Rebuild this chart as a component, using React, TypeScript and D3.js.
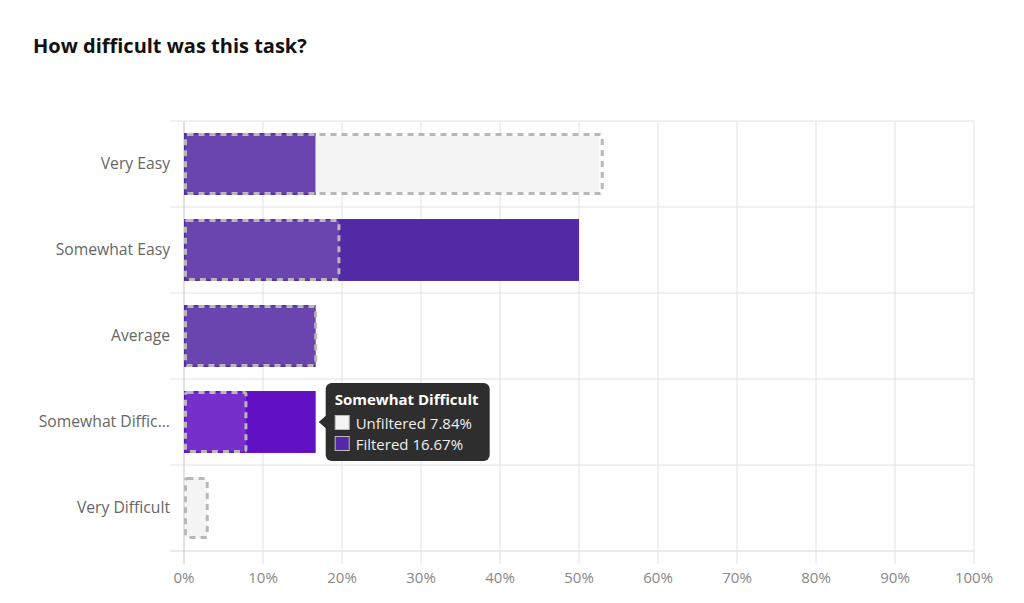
import React from "react";
import * as d3 from "d3";

const categories = ["Very Easy", "Somewhat Easy", "Average", "Somewhat Difficult", "Very Difficult"];
const categoryLabels = ["Very Easy", "Somewhat Easy", "Average", "Somewhat Diffic...", "Very Difficult"];
const unfilteredValues = [52.94, 19.61, 16.67, 7.84, 2.94];
const filteredValues = [16.67, 50, 16.67, 16.67, 0];
const xTicks = [0, 10, 20, 30, 40, 50, 60, 70, 80, 90, 100];
const hoveredCategory = "Somewhat Difficult";

const W = 1024;
const H = 603;
const FONT = "'Open Sans', Lato, sans-serif";

export default function App() {
  const left = 184;
  const right = 974;
  const top = 121;
  const bottom = 551;

  const x = d3.scaleLinear().domain([0, 100]).range([left, right]);
  const y = d3
    .scaleBand<string>()
    .domain(categories)
    .range([top, bottom])
    .paddingInner(0.28)
    .paddingOuter(0.14);
  const step = y.step();
  const bw = y.bandwidth();

  const hi = categories.indexOf(hoveredCategory);
  const hy = (y(hoveredCategory) as number) + bw / 2;
  const tipX = x(filteredValues[hi]) + 3;
  const boxX = tipX + 7;
  const boxY = hy - 39;
  const boxW = 164;
  const boxH = 78;

  return (
    <div style={{ position: "absolute", left: 0, top: 0 }}>
      <svg width={W} height={H} style={{ display: "block", background: "#fff" }} fontFamily={FONT}>
        <text x={33} y={53} fontSize={20} fontWeight={700} fill="#111">
          How difficult was this task?
        </text>

        {/* horizontal band separators */}
        {categories.map((c, i) => (
          <line
            key={"h" + c}
            x1={170}
            x2={right}
            y1={top + i * step}
            y2={top + i * step}
            stroke="#e2e2e2"
            strokeWidth={1}
          />
        ))}
        <line x1={170} x2={right} y1={bottom} y2={bottom} stroke="#d8d8d8" strokeWidth={1} />

        {/* vertical grid and ticks */}
        {xTicks.map((t) => (
          <g key={"v" + t}>
            <line
              x1={x(t)}
              x2={x(t)}
              y1={top}
              y2={bottom + 13}
              stroke={t === 0 ? "#c4c4c4" : "#e2e2e2"}
              strokeWidth={1}
            />
            <text x={x(t)} y={583} textAnchor="middle" fontSize={15} fill="#888">
              {t}%
            </text>
          </g>
        ))}

        {/* category labels */}
        {categories.map((c, i) => (
          <text
            key={"l" + c}
            x={170}
            y={(y(c) as number) + bw / 2}
            dy="0.35em"
            textAnchor="end"
            fontSize={15.7}
            fill="#666"
          >
            {categoryLabels[i]}
          </text>
        ))}

        {/* filtered bars */}
        {categories.map((c, i) =>
          filteredValues[i] > 0 ? (
            <rect
              key={"f" + c}
              x={x(0)}
              y={y(c) as number}
              width={x(filteredValues[i]) - x(0)}
              height={bw}
              fill={c === hoveredCategory ? "#6210c4" : "#5429a5"}
            />
          ) : null
        )}

        {/* unfiltered comparison bars */}
        {categories.map((c, i) => (
          <rect
            key={"u" + c}
            x={x(0) + 1.5}
            y={(y(c) as number) + 1.5}
            width={x(unfilteredValues[i]) - x(0) - 1.5}
            height={bw - 3}
            rx={2}
            fill="#f4f4f4"
            fillOpacity={filteredValues[i] > 0 ? 0.14 : 1}
            stroke="#b8b8b8"
            strokeWidth={3}
            strokeDasharray="6 5"
          />
        ))}
        {/* opaque unfiltered area beyond the filtered bar */}
        {categories.map((c, i) =>
          unfilteredValues[i] > filteredValues[i] && filteredValues[i] > 0 ? (
            <rect
              key={"ue" + c}
              x={x(filteredValues[i])}
              y={(y(c) as number) + 3}
              width={x(unfilteredValues[i]) - x(filteredValues[i]) - 3}
              height={bw - 6}
              fill="#f4f4f4"
            />
          ) : null
        )}

        {/* tooltip */}
        <g>
          <path
            d={`M${tipX},${hy} L${boxX + 1},${hy - 7} L${boxX + 1},${hy + 7} Z`}
            fill="#2e2e2e"
          />
          <rect x={boxX} y={boxY} width={boxW} height={boxH} rx={6} fill="#2e2e2e" />
          <text x={boxX + 9} y={boxY + 22} fontSize={15} fontWeight={700} fill="#fff">
            {hoveredCategory}
          </text>
          <rect x={boxX + 9.5} y={boxY + 32.5} width={14} height={14} fill="#f4f4f4" stroke="#bbb" />
          <text x={boxX + 30} y={boxY + 46} fontSize={15} fill="#eee">
            Unfiltered {unfilteredValues[hi].toFixed(2)}%
          </text>
          <rect x={boxX + 9.5} y={boxY + 53.5} width={14} height={14} fill="#5429a5" stroke="#bbb" />
          <text x={boxX + 30} y={boxY + 67} fontSize={15} fill="#eee">
            Filtered {filteredValues[hi].toFixed(2)}%
          </text>
        </g>
      </svg>
    </div>
  );
}
